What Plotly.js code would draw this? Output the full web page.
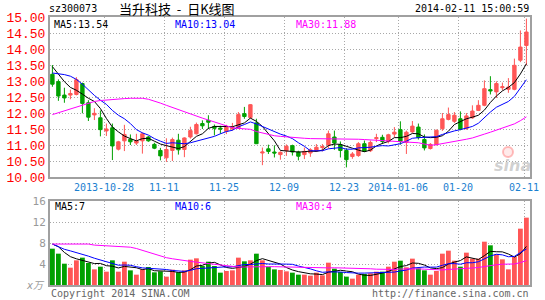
<!DOCTYPE html>
<html><head><meta charset="utf-8">
<script src="https://cdn.plot.ly/plotly-3.0.1.min.js"></script>
<style>html,body{margin:0;padding:0;background:#fff}#c{width:545px;height:300px}</style>
</head><body><div id="c"></div>
<script>
const dates = ['2013-10-15','2013-10-16','2013-10-17','2013-10-18','2013-10-21','2013-10-22','2013-10-23','2013-10-24','2013-10-25','2013-10-28','2013-10-29','2013-10-30','2013-10-31',
'2013-11-01','2013-11-04','2013-11-05','2013-11-06','2013-11-07','2013-11-08','2013-11-11','2013-11-12','2013-11-13','2013-11-14','2013-11-15','2013-11-18','2013-11-19','2013-11-20','2013-11-21','2013-11-22','2013-11-25','2013-11-26','2013-11-27','2013-11-28','2013-11-29',
'2013-12-02','2013-12-03','2013-12-04','2013-12-05','2013-12-06','2013-12-09','2013-12-10','2013-12-11','2013-12-12','2013-12-13','2013-12-16','2013-12-17','2013-12-18','2013-12-19','2013-12-20','2013-12-23','2013-12-24','2013-12-25','2013-12-26','2013-12-27','2013-12-30','2013-12-31',
'2014-01-02','2014-01-03','2014-01-06','2014-01-07','2014-01-08','2014-01-09','2014-01-10','2014-01-13','2014-01-14','2014-01-15','2014-01-16','2014-01-17','2014-01-20','2014-01-21','2014-01-22','2014-01-23','2014-01-24','2014-01-27','2014-01-28','2014-01-29','2014-01-30',
'2014-02-07','2014-02-10','2014-02-11'];

const openP = [13.21,12.98,12.56,12.56,12.58,12.92,12.32,11.94,11.85,11.44,
 11.54,10.87,11.13,11.18,11.06,11.13,11.25,11.02,10.83,10.60,
 10.83,11.15,10.86,11.25,11.35,11.67,11.77,11.58,11.53,11.43,
 11.50,11.53,11.98,11.86,11.69,10.75,10.88,10.78,10.70,10.82,
 10.98,10.78,10.70,10.75,10.82,10.92,11.00,11.25,11.01,10.83,
 10.64,10.67,11.04,10.82,11.20,11.24,11.11,11.34,11.48,11.08,
 11.41,11.56,11.17,10.89,11.01,11.51,11.80,11.74,11.82,11.51,
 11.85,12.08,12.24,12.73,12.66,12.79,12.74,12.74,13.65,14.11];
const highP = [13.50,13.05,12.79,12.73,13.12,12.95,12.40,12.15,12.08,11.67,
 11.67,11.13,11.63,11.33,11.35,11.39,11.28,11.07,10.91,11.21,
 11.23,11.35,11.24,11.57,11.70,11.77,11.93,11.64,11.60,11.63,
 11.69,12.03,12.19,12.28,11.82,10.92,11.01,10.99,10.80,11.02,
 11.01,10.82,10.92,10.90,11.03,11.03,11.45,11.45,11.11,10.90,
 10.78,11.09,11.14,11.14,11.35,11.32,11.35,11.56,11.74,11.45,
 11.75,11.67,11.33,11.06,11.48,12.00,12.17,12.03,12.05,12.00,
 12.24,12.40,13.02,13.15,12.99,12.95,13.09,13.70,14.58,14.95];
const lowP = [12.82,12.38,12.32,12.43,12.55,11.99,11.75,11.78,11.27,11.28,
 10.53,10.83,10.81,11.00,11.00,10.73,11.10,10.87,10.52,10.47,
 10.50,10.70,10.62,11.20,11.33,11.50,11.50,11.30,11.35,11.34,
 11.45,11.50,11.82,11.82,11.04,10.37,10.72,10.61,10.54,10.66,
 10.67,10.52,10.56,10.63,10.78,10.80,10.90,10.85,10.61,10.30,
 10.57,10.63,10.78,10.78,11.09,11.03,11.05,11.24,11.01,10.72,
 11.38,11.17,10.83,10.86,10.99,11.44,11.77,11.69,11.46,11.48,
 11.82,12.06,12.21,12.58,12.47,12.71,12.63,12.71,13.59,13.49];
const closeP = [12.90,12.53,12.47,12.61,13.04,12.30,11.87,11.99,11.48,11.50,
 10.97,11.10,11.33,11.10,11.13,11.35,11.13,10.90,10.66,10.86,
 11.17,10.85,11.22,11.45,11.64,11.60,11.71,11.52,11.50,11.56,
 11.55,11.95,11.89,12.26,11.04,10.78,10.80,10.75,10.77,10.96,
 10.78,10.65,10.80,10.85,10.93,10.95,11.35,11.06,10.83,10.54,
 10.72,11.04,10.80,11.08,11.23,11.11,11.32,11.40,11.11,11.40,
 11.59,11.23,10.91,11.02,11.46,11.82,11.95,11.93,11.49,11.91,
 12.06,12.24,12.76,12.69,12.92,12.82,12.81,13.49,14.06,14.53];

const ma5 = [13.45,13.22,12.98,12.80,12.71,12.59,12.46,12.36,12.14,11.83,
 11.56,11.41,11.28,11.20,11.13,11.20,11.21,11.12,11.03,10.98,
 10.94,10.89,10.95,11.11,11.27,11.35,11.52,11.58,11.59,11.58,
 11.57,11.62,11.69,11.84,11.74,11.58,11.35,11.13,10.83,10.81,
 10.81,10.78,10.79,10.81,10.80,10.84,10.98,11.03,11.02,10.95,
 10.90,10.84,10.79,10.84,10.97,11.05,11.11,11.23,11.23,11.27,
 11.36,11.35,11.25,11.23,11.24,11.29,11.43,11.64,11.73,11.82,
 11.87,11.93,12.09,12.33,12.53,12.69,12.80,12.95,13.22,13.54];
const ma10 = [13.25,13.23,13.20,13.15,13.05,12.90,12.72,12.55,12.40,12.27,
 12.08,11.93,11.82,11.67,11.48,11.38,11.31,11.20,11.12,11.05,
 11.07,11.05,11.04,11.07,11.12,11.15,11.21,11.27,11.35,11.42,
 11.46,11.57,11.64,11.72,11.66,11.58,11.49,11.41,11.34,11.28,
 11.20,11.07,10.96,10.82,10.81,10.82,10.88,10.91,10.92,10.87,
 10.87,10.91,10.91,10.93,10.96,10.98,10.97,11.01,11.04,11.12,
 11.21,11.23,11.24,11.23,11.26,11.33,11.39,11.44,11.48,11.53,
 11.58,11.68,11.86,12.03,12.18,12.28,12.36,12.52,12.78,13.04];
const ma30 = [11.95,12.01,12.07,12.13,12.19,12.25,12.31,12.36,12.39,12.41,
 12.43,12.44,12.45,12.46,12.47,12.46,12.43,12.38,12.31,12.24,
 12.17,12.10,12.03,11.96,11.90,11.84,11.78,11.72,11.65,11.58,
 11.54,11.52,11.50,11.49,11.42,11.37,11.33,11.29,11.27,11.25,
 11.24,11.23,11.21,11.20,11.20,11.18,11.19,11.20,11.20,11.19,
 11.18,11.18,11.17,11.16,11.14,11.13,11.11,11.11,11.10,11.09,
 11.09,11.07,11.03,10.99,11.01,11.04,11.08,11.12,11.14,11.18,
 11.22,11.27,11.34,11.40,11.46,11.53,11.58,11.66,11.76,11.88];

const volume = [6.92,5.97,4.06,3.30,4.70,5.21,4.19,2.98,3.49,2.54,
 4.70,2.54,4.44,2.79,1.97,2.98,3.43,2.41,2.60,1.59,
 2.92,2.41,2.79,4.83,5.08,3.62,4.44,3.62,2.35,2.67,
 2.79,5.21,4.51,4.70,5.97,4.70,3.49,2.98,2.86,2.60,
 2.35,1.97,1.97,1.78,2.35,1.84,4.25,3.11,2.48,1.59,
 1.21,1.97,2.10,2.22,2.54,2.54,3.49,4.44,4.63,3.37,
 5.02,3.17,2.79,1.97,2.67,5.97,6.54,4.63,3.49,6.16,
 5.02,5.02,8.25,7.56,5.84,4.89,2.98,5.33,10.73,12.83];
const vma5 = [7.80,7.30,6.20,5.40,4.99,4.65,4.29,4.08,4.11,3.68,
 3.58,3.25,3.54,3.40,3.29,2.94,3.12,2.72,2.68,2.60,
 2.59,2.39,2.46,2.91,3.61,3.75,4.15,4.32,3.82,3.34,
 3.17,3.33,3.51,3.98,4.64,5.02,4.67,4.37,4.00,3.33,
 2.86,2.55,2.35,2.13,2.08,1.98,2.44,2.67,2.81,2.65,
 2.53,2.07,1.87,1.82,2.01,2.27,2.58,3.05,3.53,3.69,
 4.19,4.13,3.80,3.26,3.12,3.31,3.99,4.36,4.66,5.36,
 5.17,4.86,5.59,6.40,6.34,6.31,5.90,5.32,5.95,7.35];
const vma10 = [7.80,7.30,6.80,6.50,6.20,5.85,5.50,5.10,4.75,4.34,
 4.11,3.77,3.81,3.76,3.49,3.26,3.19,3.13,3.04,2.95,
 2.77,2.75,2.59,2.79,3.10,3.17,3.27,3.39,3.37,3.47,
 3.46,3.74,3.91,3.90,3.99,4.10,4.00,3.94,3.99,3.98,
 3.94,3.61,3.36,3.07,2.71,2.42,2.50,2.51,2.47,2.37,
 2.26,2.26,2.27,2.31,2.33,2.40,2.33,2.46,2.67,2.85,
 3.23,3.35,3.42,3.40,3.41,3.75,4.06,4.08,3.96,4.24,
 4.24,4.43,4.97,5.53,5.85,5.74,5.38,5.45,6.18,6.85];
const vma30 = [7.80,7.80,7.80,7.80,7.80,7.80,7.80,7.60,7.55,7.50,
 7.45,7.40,7.30,7.20,6.95,6.60,6.20,5.85,5.50,5.20,
 5.00,4.80,4.65,4.50,4.35,4.20,4.05,3.90,3.75,3.58,
 3.45,3.42,3.44,3.48,3.53,3.51,3.49,3.49,3.46,3.47,
 3.39,3.37,3.29,3.25,3.27,3.23,3.26,3.28,3.27,3.27,
 3.22,3.20,3.18,3.09,3.01,2.97,2.94,2.97,3.04,3.07,
 3.14,3.07,3.02,2.93,2.82,2.86,2.96,3.01,3.04,3.15,
 3.24,3.34,3.55,3.75,3.86,3.96,3.92,4.00,4.27,4.65];

const tickDates = ['2013-10-28','2013-11-11','2013-11-25','2013-12-09','2013-12-23','2014-01-06','2014-01-20','2014-02-11'];
const tickLabels = ['2013-10-28','11-11','11-25','12-09','12-23','2014-01-06','01-20','02-11'];
const priceTicks = [10,10.5,11,11.5,12,12.5,13,13.5,14,14.5,15];
const priceTickText = ['10.00','10.50','11.00','11.50','12.00','12.50','13.00','13.50','14.00','14.50','15.00'];
const volTicks = [4,8,12,16];
const volTickText = ['4','8','12','16'];

const idx = dates.map((d, i) => i);
const UP = '#ff5656', DOWN = '#00a000';
const barColors = closeP.map((c, i) => (c >= openP[i] ? UP : DOWN));
const gridX = tickDates.map(d => dates.indexOf(d) - 0.4);

const MONO = 'DejaVu Sans Mono, monospace';
const GRID = '#a8a8a8';
const BORDER = '#a0a0a0';
const NB = '\u00a0';

function line(y, color, xa, ya) {
  return {type: 'scatter', mode: 'lines', x: idx, y: y, xaxis: xa, yaxis: ya,
    line: {color: color, width: 1}, hoverinfo: 'skip'};
}

const traces = [
  {type: 'candlestick', x: idx, open: openP, high: highP, low: lowP, close: closeP,
   xaxis: 'x', yaxis: 'y', whiskerwidth: 0, hoverinfo: 'skip',
   increasing: {line: {color: UP, width: 1}, fillcolor: UP},
   decreasing: {line: {color: DOWN, width: 1}, fillcolor: DOWN}},
  line(ma5, '#000000', 'x', 'y'),
  line(ma10, '#0000ff', 'x', 'y'),
  line(ma30, '#ff00ff', 'x', 'y'),
  {type: 'bar', x: idx, y: volume, xaxis: 'x2', yaxis: 'y2',
   marker: {color: barColors, line: {width: 0}}, hoverinfo: 'skip'},
  line(vma5, '#000000', 'x2', 'y2'),
  line(vma10, '#0000ff', 'x2', 'y2'),
  line(vma30, '#ff00ff', 'x2', 'y2')
];

const L = 50, R = 530, T = 17, B = 285;
const px = x => (x - L) / (R - L);
const py = y => (B - y) / (B - T);

function ann(text, x, y, xanchor, color, size, family, extra) {
  return Object.assign({text: text, xref: 'paper', yref: 'paper', x: px(x), y: py(y),
    xanchor: xanchor, yanchor: 'middle', showarrow: false, borderpad: 0,
    font: {family: family || MONO, size: size || 10, color: color}}, extra || {});
}

const xCommon = {range: [-0.4, 79.6], tickmode: 'array', tickvals: gridX,
  showgrid: true, gridcolor: GRID, griddash: '1px,2px', gridwidth: 1,
  zeroline: false, showline: true, mirror: true, linecolor: BORDER, linewidth: 2,
  ticks: '', fixedrange: true};

const layout = {
  width: 545, height: 300,
  margin: {l: L, r: 545 - R, t: T, b: 300 - B, pad: 0},
  paper_bgcolor: '#ffffff', plot_bgcolor: '#ffffff',
  showlegend: false, boxgap: 0.2, bargap: 0.2,
  xaxis: Object.assign({}, xCommon, {domain: [0, 1], anchor: 'y', ticktext: tickLabels,
    tickfont: {family: MONO, size: 10, color: '#1a80d0'}, rangeslider: {visible: false}}),
  yaxis: {domain: [(B - 177) / (B - T), 1], anchor: 'x', range: [10, 15],
    tickmode: 'array', tickvals: priceTicks, ticktext: priceTickText,
    tickfont: {family: 'Liberation Mono, monospace', size: 13, color: '#ff0000'},
    showgrid: true, gridcolor: GRID, griddash: '1px,2px', gridwidth: 1,
    zeroline: false, showline: true, mirror: true, linecolor: BORDER, linewidth: 2,
    ticks: '', fixedrange: true},
  xaxis2: Object.assign({}, xCommon, {domain: [0, 1], anchor: 'y2', showticklabels: false}),
  yaxis2: {domain: [0, (B - 201) / (B - T)], anchor: 'x2', range: [0, 16],
    tickmode: 'array', tickvals: volTicks, ticktext: volTickText,
    tickfont: {family: MONO, size: 11, color: '#999999'},
    showgrid: true, gridcolor: GRID, griddash: '1px,2px', gridwidth: 1,
    zeroline: false, showline: true, mirror: true, linecolor: BORDER, linewidth: 2,
    ticks: '', fixedrange: true},
  shapes: [
    {type: 'circle', xref: 'paper', yref: 'paper', layer: 'below',
     x0: px(503), x1: px(513), y0: py(157), y1: py(147),
     line: {color: 'rgba(255,110,110,0.45)', width: 2}, fillcolor: 'rgba(255,170,170,0.25)'}
  ],
  annotations: [
    ann('sz300073', 48, 9, 'left', '#000000', 10),
    ann('当升科技' + NB + NB + '-' + NB + NB + '日K线图', 118, 9, 'left', '#000000', 13, 'Noto Sans CJK SC, sans-serif'),
    ann('2014-02-11 15:00:59', 530, 9, 'right', '#000000', 10),
    ann('MA5:13.54', 53, 25, 'left', '#000000', 10),
    ann('MA10:13.04', 174, 25, 'left', '#0000ff', 10),
    ann('MA30:11.88', 295, 25, 'left', '#ff00ff', 10),
    ann('MA5:7', 54, 207, 'left', '#000000', 10),
    ann('MA10:6', 174, 207, 'left', '#0000ff', 10),
    ann('MA30:4', 295, 207, 'left', '#ff00ff', 10),
    ann('<i>x万</i>', 46, 285, 'right', '#999999', 10, 'DejaVu Sans, Noto Sans CJK SC, sans-serif'),
    ann('Copyright 2014 SINA.COM', 50, 293, 'left', '#666666', 10),
    ann('http://finance.sina.com.cn', 530, 293, 'right', '#666666', 10),
    ann('<b><i>sina</i></b>', 512, 165, 'center', 'rgba(150,150,150,0.45)', 16, 'DejaVu Sans, sans-serif')
  ]
};

Plotly.newPlot('c', traces, layout, {staticPlot: true, displayModeBar: false});
</script>
</body></html>
